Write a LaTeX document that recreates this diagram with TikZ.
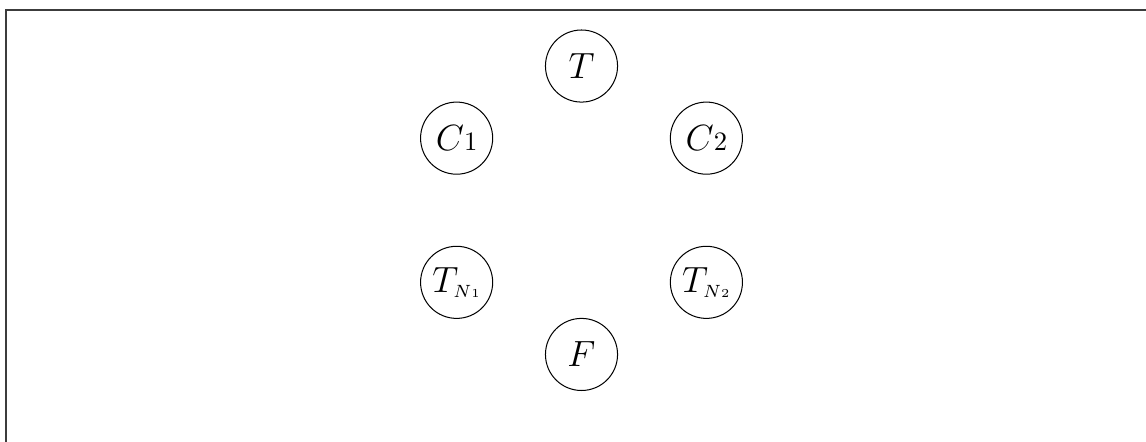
\documentclass[tikz,border=0pt]{standalone}
\usepackage{fix-cm}
\usepackage{xcolor}
\usepackage{tikz}
\usetikzlibrary{positioning, calc}
\definecolor{framegray}{RGB}{60,60,60}

\begin{document}
\begin{tikzpicture}[every node/.style={font=\fontsize{14.4}{17}\selectfont}, state/.style={draw, circle, minimum size=1cm, inner sep=0pt}]
    \useasboundingbox (0,0) rectangle (15.894,-6.130);
    \clip (0,0) rectangle (15.894,-6.130);
    \draw[line width=0.8pt, framegray] (0.083,-0.139) rectangle (16.5,-7);
    \coordinate (ctr) at (8.065,-2.916);
    \node[state] (t) at ($(ctr)+(90:2)$) {$T$};
    \node[state] (c1) at ($(ctr)+(150:2)$) {$C\hbox{\fontsize{10.5}{12}\selectfont 1}$};
    \node[state] (c2) at ($(ctr)+(30:2)$) {$C\hbox{\fontsize{10.5}{12}\selectfont 2}$};
    \node[state] (tn1) at ($(ctr)+(210:2)$) {$T_{\scriptscriptstyle N\hbox{\fontsize{4.8}{5}\selectfont 1}}$};
    \node[state] (tn2) at ($(ctr)+(330:2)$) {$T_{\scriptscriptstyle N\hbox{\fontsize{4.8}{5}\selectfont 2}}$};
    \node[state] (f) at ($(ctr)+(270:2)$) {$F$};
  \end{tikzpicture}
\end{document}
